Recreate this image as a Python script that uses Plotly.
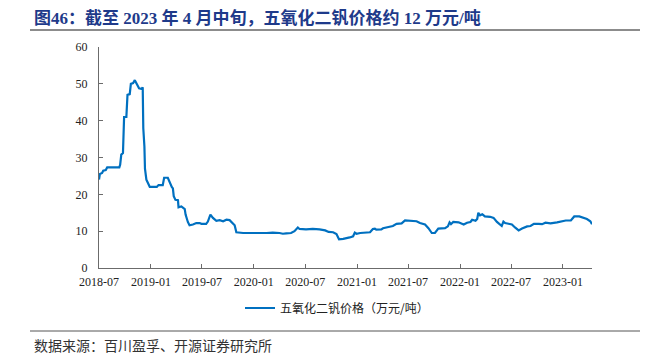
import plotly.graph_objects as go

dates = [
    "2018-07-01","2018-07-04","2018-07-12","2018-07-16","2018-07-25","2018-07-30",
    "2018-09-11","2018-09-14","2018-09-18","2018-09-24","2018-09-28","2018-10-06",
    "2018-10-10","2018-10-18","2018-10-22","2018-10-30","2018-11-05","2018-11-12",
    "2018-11-20","2018-11-30","2018-12-03","2018-12-05","2018-12-09","2018-12-11",
    "2018-12-16","2018-12-22","2018-12-28","2019-01-22","2019-01-28","2019-02-12",
    "2019-02-17","2019-03-02","2019-03-08","2019-03-16","2019-03-20","2019-03-23",
    "2019-03-29","2019-04-07","2019-04-09","2019-04-19","2019-05-01","2019-05-04",
    "2019-05-12","2019-05-18","2019-05-30","2019-06-11","2019-06-23","2019-06-29",
    "2019-07-16","2019-07-22","2019-07-31","2019-08-09","2019-08-21","2019-09-02",
    "2019-09-14","2019-09-26","2019-10-07","2019-10-19","2019-10-25","2019-10-31",
    "2019-11-12","2019-11-24","2020-02-15","2020-03-08","2020-04-01","2020-04-13",
    "2020-04-25","2020-05-12","2020-05-24","2020-06-05","2020-06-11","2020-07-04",
    "2020-07-28","2020-08-21","2020-09-10","2020-09-22","2020-10-08","2020-10-20",
    "2020-10-29","2020-11-13","2020-12-06","2020-12-18","2020-12-24","2020-12-30",
    "2021-01-12","2021-02-16","2021-02-26","2021-03-05","2021-03-10","2021-03-28",
    "2021-04-03","2021-04-27","2021-05-08","2021-05-21","2021-06-08","2021-06-20",
    "2021-07-07","2021-07-31","2021-08-12","2021-08-30","2021-09-11","2021-09-23",
    "2021-10-04","2021-10-16","2021-11-09","2021-11-19","2021-11-25","2021-11-30",
    "2021-12-08","2021-12-27","2022-01-14","2022-01-26","2022-02-07","2022-02-13",
    "2022-02-25","2022-03-03","2022-03-07","2022-03-13","2022-03-21","2022-03-30",
    "2022-04-18","2022-04-30","2022-05-12","2022-05-23","2022-05-29","2022-06-04",
    "2022-06-10","2022-06-22","2022-07-04","2022-07-15","2022-07-28","2022-08-09",
    "2022-08-27","2022-09-08","2022-09-20","2022-10-07","2022-10-19","2022-10-31",
    "2022-11-18","2022-12-11","2022-12-29","2023-01-11","2023-01-29","2023-02-10",
    "2023-02-28","2023-03-15","2023-03-27","2023-04-08","2023-04-14",
]
prices = [
    24.0,25.5,25.8,26.4,26.6,27.3,
    27.3,28.0,30.8,31.2,41.0,41.0,
    47.0,47.2,50.0,50.2,51.0,50.0,
    48.8,48.6,49.1,38.0,33.0,27.0,
    24.0,23.0,22.0,22.0,22.5,22.5,
    24.5,24.5,23.2,22.0,21.6,19.5,
    18.5,18.4,16.5,16.7,16.0,14.5,
    12.5,11.6,11.8,12.2,12.2,12.0,
    12.0,12.6,14.5,13.6,12.8,13.0,
    12.7,13.1,13.0,12.1,11.6,9.7,
    9.6,9.5,9.5,9.6,9.5,9.3,
    9.4,9.5,10.0,11.0,10.6,10.5,
    10.6,10.5,10.2,9.8,9.7,9.2,
    7.8,7.9,8.3,8.6,9.6,9.3,
    9.5,9.7,10.6,10.7,10.4,10.5,
    10.8,11.2,11.4,12.0,12.1,12.9,
    12.9,12.7,12.2,11.8,10.8,9.5,
    9.5,10.7,10.8,11.3,12.4,11.9,
    12.5,12.4,11.8,12.3,12.5,13.1,
    12.8,13.3,15.0,14.3,14.6,14.0,
    13.9,13.6,12.5,11.7,11.4,12.6,
    12.2,12.0,11.8,11.0,10.2,10.7,
    11.3,11.4,12.0,12.0,11.9,12.3,
    12.1,12.4,12.7,12.9,12.9,14.0,
    14.0,13.7,13.3,12.7,11.9,
]
tick_vals = ["2018-07-01","2019-01-01","2019-07-01","2020-01-01","2020-07-01",
             "2021-01-01","2021-07-01","2022-01-01","2022-07-01","2023-01-01"]
tick_text = ["2018-07","2019-01","2019-07","2020-01","2020-07",
             "2021-01","2021-07","2022-01","2022-07","2023-01"]
series_name = "五氧化二钒价格（万元/吨）"
title_text = "图46：截至 2023 年 4 月中旬，五氧化二钒价格约 12 万元/吨"
source_text = "数据来源：百川盈孚、开源证券研究所"

# page body has an 8px margin; size the figure so it fills the 648x361 window
OFF = 8
W, H = 648 - OFF, 361 - OFF
L, R, T, B = 99 - OFF, 56, 47 - OFF, 93
pw, ph = W - L - R, H - T - B
def px(x): return (x - OFF - L) / pw
def py(y): return (H - B - (y - OFF)) / ph

serif = "Liberation Serif, Noto Sans CJK SC, serif"
cjk = "Noto Sans CJK SC, sans-serif"
axis_col = "#6b6b6b"

fig = go.Figure()
fig.add_trace(go.Scatter(x=dates, y=prices, mode="lines", name=series_name,
                         line=dict(color="#0070C0", width=2.2)))

fig.update_layout(
    width=W, height=H,
    margin=dict(l=L, r=R, t=T, b=B),
    plot_bgcolor="white", paper_bgcolor="white",
    showlegend=True,
    legend=dict(orientation="h", x=px(337), xanchor="center", y=py(308), yanchor="middle",
                font=dict(family=cjk, size=12, color="#222"), itemwidth=30),
    xaxis=dict(range=["2018-07-01", "2023-04-14"], tickvals=tick_vals, ticktext=tick_text,
               showgrid=False, zeroline=False, showline=True, linecolor=axis_col, linewidth=1,
               ticks="inside", ticklen=4, tickcolor=axis_col, ticklabelstandoff=3,
               tickfont=dict(family=serif, size=12, color="#222")),
    yaxis=dict(range=[0, 60], dtick=10, showgrid=False, zeroline=False, showline=True,
               linecolor=axis_col, linewidth=1, ticks="inside", ticklen=4, tickcolor=axis_col,
               ticklabelstandoff=8,
               tickfont=dict(family=serif, size=12, color="#222")),
)

fig.add_annotation(text="<b>" + title_text + "</b>", xref="paper", yref="paper",
                   x=px(32), y=py(18), xanchor="left", yanchor="middle", showarrow=False,
                   font=dict(family=serif, size=17, color="#1E3A8A"))
fig.add_annotation(text=source_text, xref="paper", yref="paper",
                   x=px(32), y=py(345), xanchor="left", yanchor="middle", showarrow=False,
                   font=dict(family=cjk, size=14, color="#333"))
fig.add_shape(type="line", xref="paper", yref="paper", x0=px(30), x1=px(648),
              y0=py(30), y1=py(30), line=dict(color="#8c8c8c", width=2))
fig.add_shape(type="line", xref="paper", yref="paper", x0=px(30), x1=px(648),
              y0=py(331), y1=py(331), line=dict(color="#555", width=1))

fig.write_html("out.html")
